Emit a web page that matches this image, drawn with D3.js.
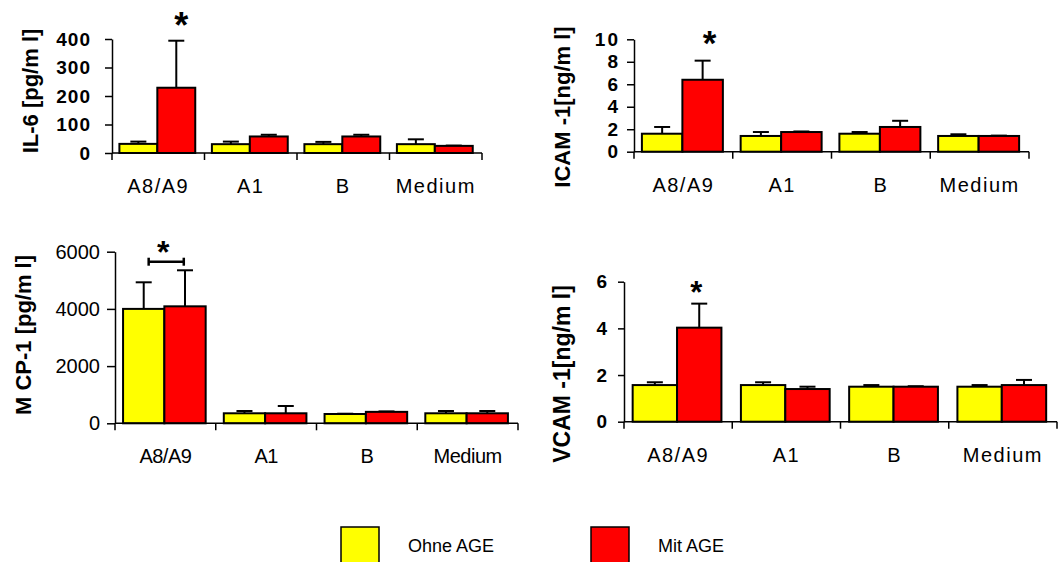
<!DOCTYPE html>
<html>
<head>
<meta charset="utf-8">
<script src="https://cdn.jsdelivr.net/npm/d3@7"></script>
<style>
  body { margin: 0; background: #fff; }
  svg { display: block; font-family: "Liberation Sans", Arial, sans-serif; }
</style>
</head>
<body>
<div id="chart"></div>
<script>
var width  = 1062;
var height = 562;

// data
var categories = ["A8/A9", "A1", "B", "Medium"];
var seriesNames = ["Ohne AGE", "Mit AGE"];
var seriesColors = ["#ffff00", "#ff0000"];

var il6Ohne    = [32, 31, 31, 31];
var il6OhneErr = [8, 9, 8, 17];
var il6Mit     = [229, 58, 58, 25];
var il6MitErr  = [165, 6, 6, 1];
var il6Ticks   = [0, 100, 200, 300, 400];

var icamOhne    = [1.6, 1.4, 1.6, 1.4];
var icamOhneErr = [0.6, 0.35, 0.15, 0.15];
var icamMit     = [6.4, 1.75, 2.2, 1.4];
var icamMitErr  = [1.7, 0.05, 0.55, 0.03];
var icamTicks   = [0, 2, 4, 6, 8, 10];

var mcpOhne    = [4000, 350, 325, 350];
var mcpOhneErr = [930, 80, 10, 80];
var mcpMit     = [4090, 350, 400, 350];
var mcpMitErr  = [1260, 255, 15, 80];
var mcpTicks   = [0, 2000, 4000, 6000];

var vcamOhne    = [1.57, 1.57, 1.5, 1.5];
var vcamOhneErr = [0.12, 0.12, 0.07, 0.07];
var vcamMit     = [4.03, 1.4, 1.5, 1.57];
var vcamMitErr  = [1.03, 0.1, 0.02, 0.22];
var vcamTicks   = [0, 2, 4, 6];

var svg = d3.select("#chart")
    .append("svg")
    .attr("width", width)
    .attr("height", height);

var panels = [
  { label: "IL-6 [pg/m l]", ohne: il6Ohne, ohneErr: il6OhneErr, mit: il6Mit, mitErr: il6MitErr,
    ticks: il6Ticks, x0: 112, x1: 482, yTop: 39, yBot: 153, tickSize: 7, tickPad: 14, tickBold: true,
    tickFont: 19, tickSpacing: 1, catFont: 20, catSpacing: 1.5,
    labelX: 38, labelY: 91, labelFont: 22, star: { gap: 3, dx: 5, size: 36 } },
  { label: "ICAM -1[ng/m l]", ohne: icamOhne, ohneErr: icamOhneErr, mit: icamMit, mitErr: icamMitErr,
    ticks: icamTicks, x0: 634, x1: 1029, yTop: 39.3, yBot: 151.7, tickSize: 7, tickPad: 7, tickBold: true,
    tickFont: 19, tickSpacing: 2, catFont: 20, catSpacing: 1.5,
    labelX: 570, labelY: 107, labelFont: 22, star: { gap: 6, dx: 7, size: 35 } },
  { label: "M CP-1 [pg/m l]", ohne: mcpOhne, ohneErr: mcpOhneErr, mit: mcpMit, mitErr: mcpMitErr,
    ticks: mcpTicks, x0: 115, x1: 518, yTop: 251.7, yBot: 423.3, tickSize: 8, tickPad: 7, tickBold: false,
    tickFont: 20, tickSpacing: 0, catFont: 20, catSpacing: -0.5,
    labelX: 31, labelY: 335, labelFont: 22, bracket: { y: 5650, size: 32 } },
  { label: "VCAM -1[ng/m l]", ohne: vcamOhne, ohneErr: vcamOhneErr, mit: vcamMit, mitErr: vcamMitErr,
    ticks: vcamTicks, x0: 624, x1: 1057, yTop: 281.7, yBot: 421.7, tickSize: 6, tickPad: 10, tickBold: true,
    tickFont: 19, tickSpacing: 1, catFont: 20, catSpacing: 1.5,
    labelX: 570, labelY: 374, labelFont: 23, star: { gap: 1, dx: -3, size: 31 } }
];

panels.forEach(drawPanel);
drawLegend();

function drawPanel(p) {
  var g = svg.append("g");

  var x = d3.scaleBand()
      .domain(categories)
      .range([p.x0, p.x1])
      .padding(0);

  var y = d3.scaleLinear()
      .domain([0, d3.max(p.ticks)])
      .range([p.yBot, p.yTop]);

  var bw = x.bandwidth() * 0.41;
  var off = x.bandwidth() * 0.08;

  var rows = [];
  categories.forEach(function(c, i) {
    rows.push({ cat: c, s: 0, v: p.ohne[i], e: p.ohneErr[i] });
    rows.push({ cat: c, s: 1, v: p.mit[i], e: p.mitErr[i] });
  });

  var barX = function(d) { return x(d.cat) + off + d.s * bw; };

  // error bars (only upward)
  var err = g.selectAll(".err")
      .data(rows)
      .enter()
      .append("g")
      .attr("class", "err")
      .attr("stroke", "#000")
      .attr("stroke-width", 2);

  err.append("line")
      .attr("x1", function(d) { return barX(d) + bw / 2; })
      .attr("x2", function(d) { return barX(d) + bw / 2; })
      .attr("y1", function(d) { return y(d.v); })
      .attr("y2", function(d) { return y(d.v + d.e); });

  err.append("line")
      .attr("x1", function(d) { return barX(d) + bw / 2 - 8; })
      .attr("x2", function(d) { return barX(d) + bw / 2 + 8; })
      .attr("y1", function(d) { return y(d.v + d.e); })
      .attr("y2", function(d) { return y(d.v + d.e); });

  g.selectAll("rect")
      .data(rows)
      .enter()
      .append("rect")
      .attr("x", barX)
      .attr("y", function(d) { return y(d.v); })
      .attr("width", bw)
      .attr("height", function(d) { return y(0) - y(d.v); })
      .attr("fill", function(d) { return seriesColors[d.s]; })
      .attr("stroke", "#000")
      .attr("stroke-width", 2);

  // y axis
  var yAxis = g.append("g")
      .attr("transform", "translate(" + p.x0 + ",0)")
      .call(d3.axisLeft(y)
        .tickValues(p.ticks)
        .tickFormat(function(d) { return String(d); })
        .tickSize(p.tickSize)
        .tickSizeOuter(0)
        .tickPadding(p.tickPad));

  yAxis.select(".domain").attr("stroke-width", 1.5);
  yAxis.selectAll(".tick line").attr("stroke-width", 1.5);
  yAxis.selectAll("text")
      .attr("font-family", "Liberation Sans, Arial, sans-serif")
      .attr("font-size", p.tickFont)
      .attr("font-weight", p.tickBold ? "bold" : "normal")
      .attr("letter-spacing", p.tickSpacing)
      .attr("fill", "#000");

  // x axis with ticks at category boundaries
  g.append("line")
      .attr("x1", p.x0).attr("x2", p.x1)
      .attr("y1", y(0)).attr("y2", y(0))
      .attr("stroke", "#000").attr("stroke-width", 1.5);

  var bounds = [p.x0].concat(categories.map(function(c) { return x(c) + x.bandwidth(); }));
  g.selectAll(".xtick")
      .data(bounds)
      .enter()
      .append("line")
      .attr("x1", function(d) { return d; })
      .attr("x2", function(d) { return d; })
      .attr("y1", y(0))
      .attr("y2", y(0) + 7)
      .attr("stroke", "#000")
      .attr("stroke-width", 1.5);

  g.selectAll(".cat")
      .data(categories)
      .enter()
      .append("text")
      .attr("x", function(d) { return x(d) + x.bandwidth() / 2; })
      .attr("y", y(0) + 40)
      .attr("text-anchor", "middle")
      .attr("font-size", p.catFont)
      .attr("letter-spacing", p.catSpacing)
      .text(function(d) { return d; });

  // axis title
  g.append("text")
      .attr("transform", "translate(" + p.labelX + "," + p.labelY + ") rotate(-90)")
      .attr("text-anchor", "middle")
      .attr("font-size", p.labelFont)
      .attr("font-weight", "bold")
      .text(p.label);

  // significance marks
  if (p.star) {
    var top = y(p.mit[0] + p.mitErr[0]);
    g.append("text")
        .attr("x", x(categories[0]) + off + bw * 1.5 + p.star.dx)
        .attr("y", top - p.star.gap)
        .attr("text-anchor", "middle")
        .attr("font-size", p.star.size)
        .attr("font-weight", "bold")
        .text("*");
  }
  if (p.bracket) {
    var by = y(p.bracket.y);
    var bx1 = x(categories[0]) + off + bw * 0.62;
    var bx2 = x(categories[0]) + off + bw * 1.47;
    var br = g.append("g").attr("stroke", "#000").attr("stroke-width", 2.5);
    br.append("line").attr("x1", bx1).attr("x2", bx2).attr("y1", by).attr("y2", by);
    br.append("line").attr("x1", bx1).attr("x2", bx1).attr("y1", by - 4).attr("y2", by + 4);
    br.append("line").attr("x1", bx2).attr("x2", bx2).attr("y1", by - 4).attr("y2", by + 4);
    g.append("text")
        .attr("x", (bx1 + bx2) / 2 - 3)
        .attr("y", by + 1)
        .attr("text-anchor", "middle")
        .attr("font-size", p.bracket.size)
        .attr("font-weight", "bold")
        .text("*");
  }
}

function drawLegend() {
  var legX = [341, 591];
  var lg = svg.append("g");
  seriesNames.forEach(function(name, i) {
    lg.append("rect")
        .attr("x", legX[i])
        .attr("y", 527)
        .attr("width", 38)
        .attr("height", 40)
        .attr("fill", seriesColors[i])
        .attr("stroke", "#000")
        .attr("stroke-width", 1.5);
    lg.append("text")
        .attr("x", legX[i] + 67)
        .attr("y", 552)
        .attr("font-size", 18)
        .text(name);
  });
}
</script>
</body>
</html>
